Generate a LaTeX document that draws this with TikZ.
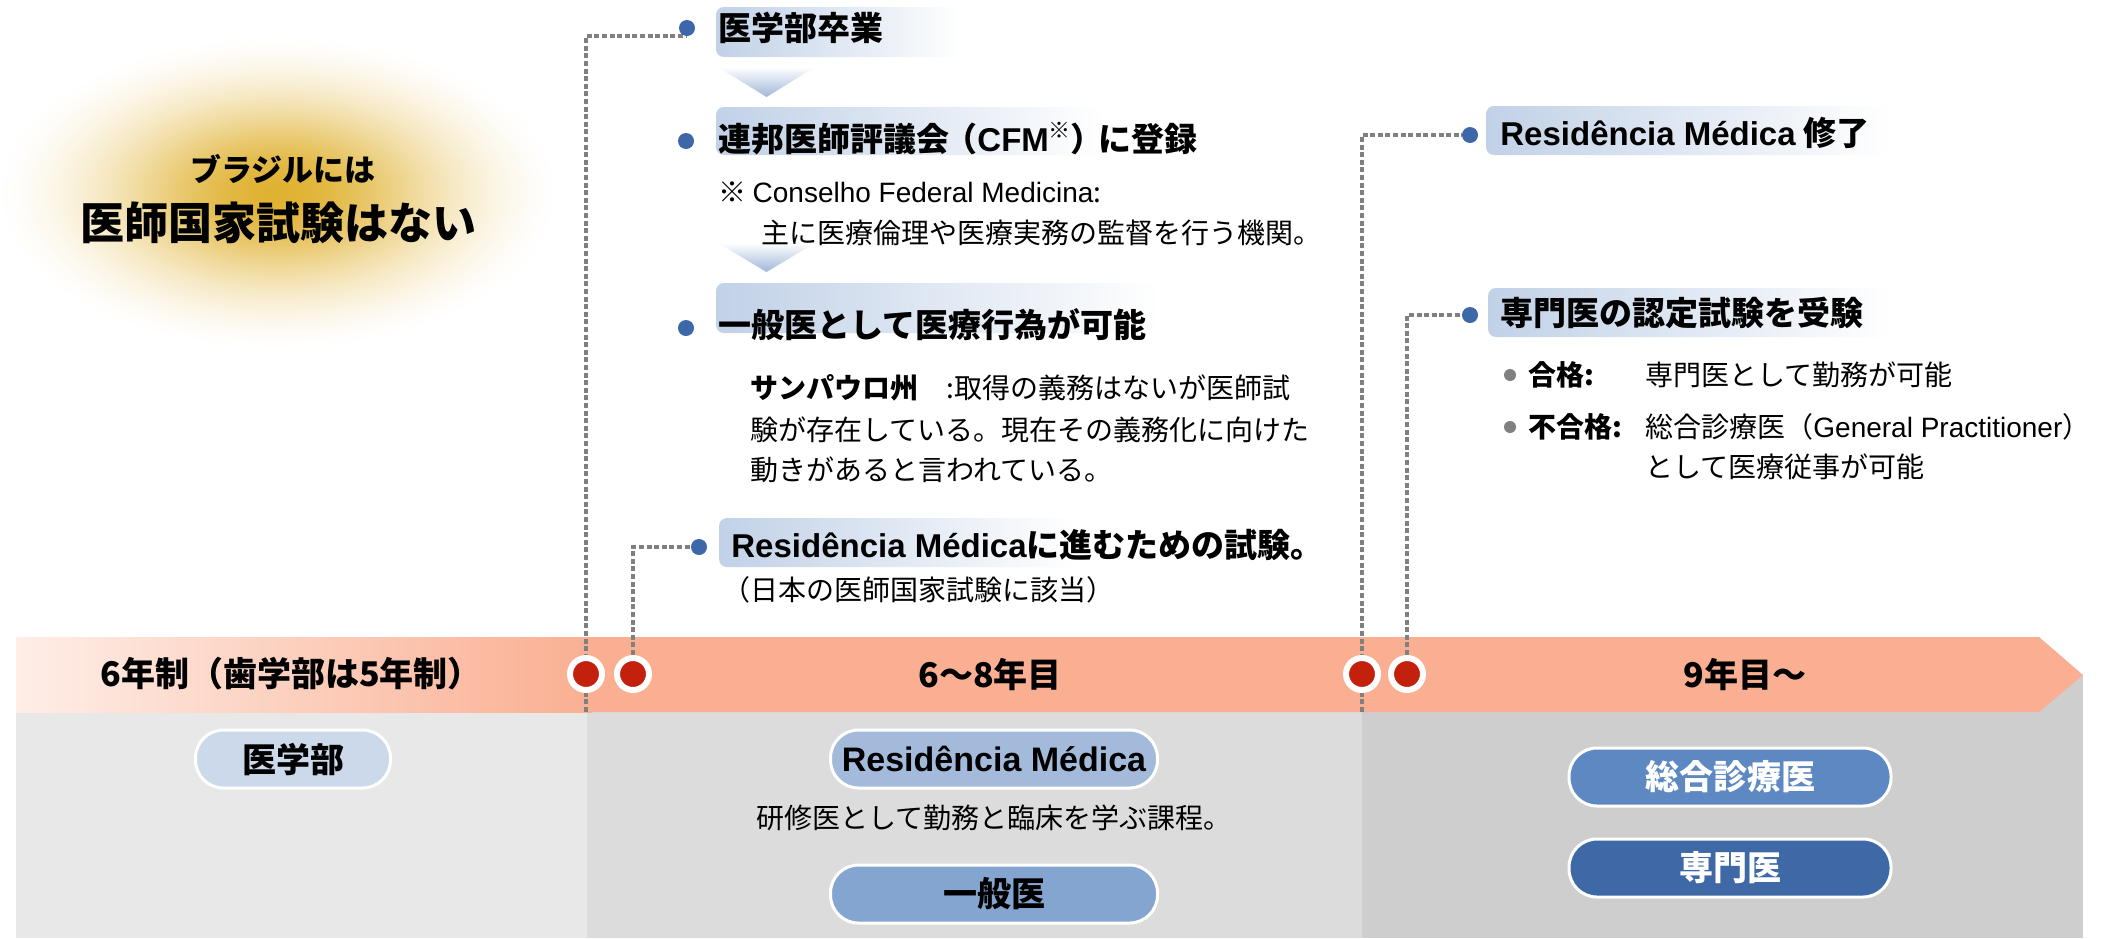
\documentclass[tikz,border=0pt]{standalone}
\usepackage{fontspec}
\setmainfont{Noto Sans CJK JP}
\newfontfamily\lat{Liberation Sans}
\definecolor{salmon}{RGB}{250,175,146}
\definecolor{salmonlt}{RGB}{254,238,231}
\definecolor{gA}{RGB}{232,232,232}
\definecolor{gB}{RGB}{220,220,220}
\definecolor{gC}{RGB}{206,206,206}
\definecolor{dotred}{RGB}{196,32,14}
\definecolor{dotblue}{RGB}{61,103,168}
\definecolor{hdblue}{RGB}{193,209,231}
\definecolor{arrblue}{RGB}{160,183,217}
\definecolor{pillA}{RGB}{203,217,234}
\definecolor{pillB}{RGB}{163,186,219}
\definecolor{pillC}{RGB}{133,165,209}
\definecolor{pillD}{RGB}{94,136,194}
\definecolor{pillE}{RGB}{62,104,166}
\definecolor{dashgray}{RGB}{128,128,128}
\definecolor{gold}{RGB}{224,178,50}
\pgfdeclarelayer{bg}
\pgfdeclarelayer{mid}
\pgfsetlayers{bg,mid,main}
\begin{document}
\begin{tikzpicture}[x=0.5pt,y=-0.5pt,
  conn/.style={draw=dashgray, line width=2pt, dash pattern=on 2.5pt off 1.3pt},
  bdot/.style={circle, fill=dotred, draw=white, line width=3pt, minimum size=16pt, inner sep=0pt},
  hdot/.style={circle, fill=dotblue, minimum size=8pt, inner sep=0pt},
  gdot/.style={circle, fill=dashgray, minimum size=6pt, inner sep=0pt},
  hbox/.style={left color=hdblue, right color=white, rounded corners=4pt},
  darr/.style={top color=white, bottom color=arrblue},
  htext/.style={anchor=west, inner sep=0pt, font=\fontsize{16.5}{20}\selectfont\bfseries},
  btext/.style={anchor=west, inner sep=0pt, font=\fontsize{14}{17}\selectfont},
  bandtext/.style={inner sep=0pt, font=\fontsize{17}{20}\selectfont\bfseries},
  pill/.style={rounded corners=14pt, draw=white, line width=1.5pt, minimum height=29pt, inner sep=0pt, font=\fontsize{17}{20}\selectfont\bfseries}
]
\useasboundingbox (0,0) rectangle (2114,938);

% background layer: glow, columns, band
\begin{pgfonlayer}{bg}
  \fill[white] (0,0) rectangle (2114,938);
  \foreach \i in {0,...,80}{
    \pgfmathsetmacro\f{1-\i/81}
    \pgfmathsetmacro\p{100*(exp(-2.6*\f*\f)-exp(-2.6))/(1-exp(-2.6))}
    \fill[gold!\p!white] (278,193) ellipse [x radius={278*\f}, y radius={155*\f}];
  }
  \fill[gA] (16,712) rectangle (587,938);
  \fill[gB] (587,712) rectangle (1362,938);
  \fill[gC] (1362,675) rectangle (2083,938);
  \fill[salmon] (590,637) -- (2039,637) -- (2083,675) -- (2039,712) -- (590,712) -- cycle;
  \shade[left color=salmonlt, right color=salmon] (16,637) rectangle (592,712);
\end{pgfonlayer}

% glow texts
\node[inner sep=0pt, font=\fontsize{15.5}{18}\selectfont\bfseries] (g1) at (283,169) {ブラジルには};
\node[inner sep=0pt, font=\fontsize{22}{26}\selectfont\bfseries] (g2) at (278,223) {医師国家試験はない};

% heading boxes and arrows
\shade[hbox] (716,7) rectangle (962,57);
\shade[darr] (718,67) -- (815,67) -- (766.5,97) -- cycle;
\shade[hbox] (716,107) rectangle (1105,155);
\shade[darr] (718,243) -- (815,243) -- (766.5,272) -- cycle;
\shade[hbox] (716,283) rectangle (1160,333);
\shade[hbox] (719,518) rectangle (1075,567);
\shade[hbox] (1486,106) rectangle (1890,155);
\shade[hbox] (1488,288) rectangle (1890,337);

% heading dots
\node[hdot] (h1) at (687,28) {};
\node[hdot] (h2) at (686,141) {};
\node[hdot] (h3) at (686,328) {};
\node[hdot] (h4) at (699,547) {};
\node[hdot] (h5) at (1470,135) {};
\node[hdot] (h6) at (1470,315) {};

% heading texts
\node[htext] (t1) at (718,28) {医学部卒業};
\node[htext] (t2) at (718,139) {連邦医師評議会\kern-0.15em（{\lat CFM}\raisebox{0.4em}{\fontsize{11}{11}\selectfont ※}）\kern-0.15em に登録};
\node[btext] (n1) at (718,192) {※ {\lat Conselho Federal Medicina}:};
\node[btext] (n2) at (761,233) {主に医療倫理や医療実務の監督を行う機関。};
\node[htext] (t3) at (718,325) {一般医として医療行為が可能};
\node[btext] (s1) at (750,388) {\bfseries サンパウロ州\mdseries　:取得の義務はないが医師試};
\node[btext] (s2) at (750,430) {験が存在している。現在その義務化に向けた};
\node[btext] (s3) at (750,470) {動きがあると言われている。};
\node[htext] (t4) at (731,545) {{\lat Residência Médica}に進むための試験。};
\node[btext] (n3) at (722,590) {（日本の医師国家試験に該当）};
\node[htext] (t5) at (1500,133) {{\lat Residência Médica} 修了};
\node[htext] (t6) at (1500,313) {専門医の認定試験を受験};

% sub bullets
\node[gdot] (k1) at (1510,375) {};
\node[gdot] (k2) at (1510,427) {};
\node[btext, font=\fontsize{14}{17}\selectfont\bfseries] (p1) at (1528,375) {合格:};
\node[btext] (p2) at (1645,375) {専門医として勤務が可能};
\node[btext, font=\fontsize{14}{17}\selectfont\bfseries] (f1) at (1528,427) {不合格:};
\node[btext] (f2) at (1645,427) {総合診療医（{\lat General Practitioner}）};
\node[btext] (f3) at (1645,467) {として医療従事が可能};

% band
\node[bandtext] (y1) at (291,674) {6年制（歯学部は5年制）};
\node[bandtext] (y2) at (990,674) {6〜8年目};
\node[bandtext] (y3) at (1745,674) {9年目〜};
\node[bdot] (b1) at (586,674) {};
\node[bdot] (b2) at (633,674) {};
\node[bdot] (b3) at (1362,674) {};
\node[bdot] (b4) at (1407,674) {};

% pills
\node[pill, fill=pillA, minimum width=97.5pt] (m1) at (293,759) {医学部};
\node[pill, fill=pillB, minimum width=163.5pt] (m2) at (994,759) {\lat Residência Médica};
\node[btext, anchor=center] (m3) at (994,818) {研修医として勤務と臨床を学ぶ課程。};
\node[pill, fill=pillC, minimum width=163.5pt] (m4) at (994,894) {一般医};
\node[pill, fill=pillD, minimum width=161pt, text=white] (m5) at (1730,777) {総合診療医};
\node[pill, fill=pillE, minimum width=161pt, text=white] (m6) at (1730,868) {専門医};

% connectors
\coordinate (c1) at (586,712);
\coordinate (c3) at (1362,712);
\begin{pgfonlayer}{mid}
  \draw[conn] (c1) |- (h1.south);
  \draw[conn] (b2) |- (h4);
  \draw[conn] (c3) |- (h5);
  \draw[conn] (b4) |- (h6);
\end{pgfonlayer}
\end{tikzpicture}
\end{document}
